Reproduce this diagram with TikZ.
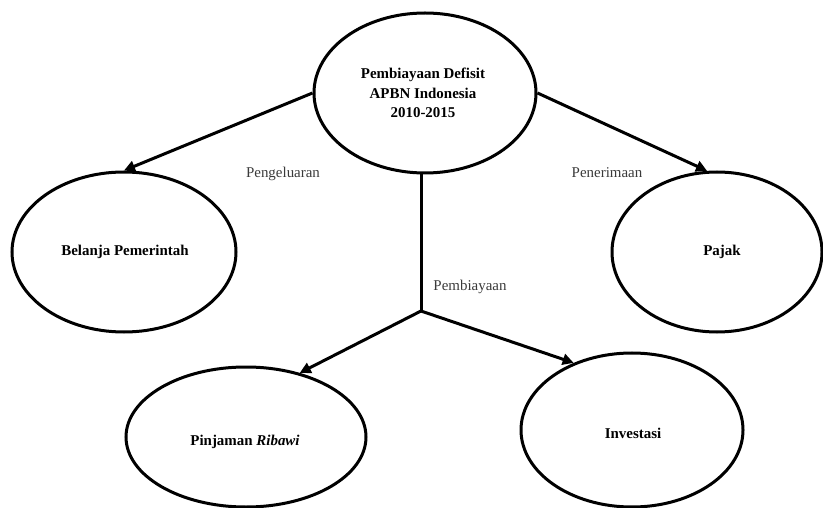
\documentclass[tikz,border=0pt]{standalone}
\usepackage{fontspec}
\setmainfont{Liberation Serif}
\usetikzlibrary{shapes.geometric,arrows.meta}
\definecolor{labelgray}{HTML}{3A3A3A}
\tikzset{
  oval/.style={ellipse,draw=black,line width=3bp,fill=white,inner sep=0pt,
    font=\fontsize{15}{19.5}\selectfont\bfseries,align=center},
  conn/.style={line width=3bp,draw=black},
  arr/.style={conn,-{Triangle[length=11bp,width=11bp]}},
  lbl/.style={font=\fontsize{15}{18}\selectfont,text=labelgray,inner sep=0pt}
}
\begin{document}
\begin{tikzpicture}[x=1bp,y=-1bp]
\useasboundingbox (0,0) rectangle (823,508);
% ellipses
\node[oval,minimum width=222bp,minimum height=160bp] (top) at (425,93) {};
\node[font=\fontsize{15}{19.5}\selectfont\bfseries,align=center] (toptxt) at (423,93) {Pembiayaan Defisit\\APBN Indonesia\\2010-2015};
\node[oval,minimum width=224bp,minimum height=160bp] (bel) at (124,252) {};
\node[font=\fontsize{15}{19.5}\selectfont\bfseries] (beltxt) at (125,252) {Belanja Pemerintah};
\node[oval,minimum width=210bp,minimum height=160bp] (paj) at (717,252) {};
\node[font=\fontsize{15}{19.5}\selectfont\bfseries] (pajtxt) at (722,252) {Pajak};
\node[oval,minimum width=240bp,minimum height=140bp] (pin) at (246,437) {};
\node[font=\fontsize{15}{19.5}\selectfont\bfseries] (pintxt) at (245,442) {Pinjaman \textit{Ribawi}};
\node[oval,minimum width=222bp,minimum height=154bp] (inv) at (632,430) {};
\node[font=\fontsize{15}{19.5}\selectfont\bfseries] (invtxt) at (633,433) {Investasi};
% connectors
\coordinate (j) at (421,311);
\draw[arr] (top.west) -- (bel.north);
\draw[arr] (top.east) -- (paj.97);
\draw[conn] (top.south -| j) -- (j);
\draw[arr] (j) -- (pin.50);
\draw[arr] (j) -- (inv.131);
% labels
\node[lbl] (l1) at (283,174) {Pengeluaran};
\node[lbl] (l2) at (607,173) {Penerimaan};
\node[lbl] (l3) at (470,287) {Pembiayaan};
\end{tikzpicture}
\end{document}
